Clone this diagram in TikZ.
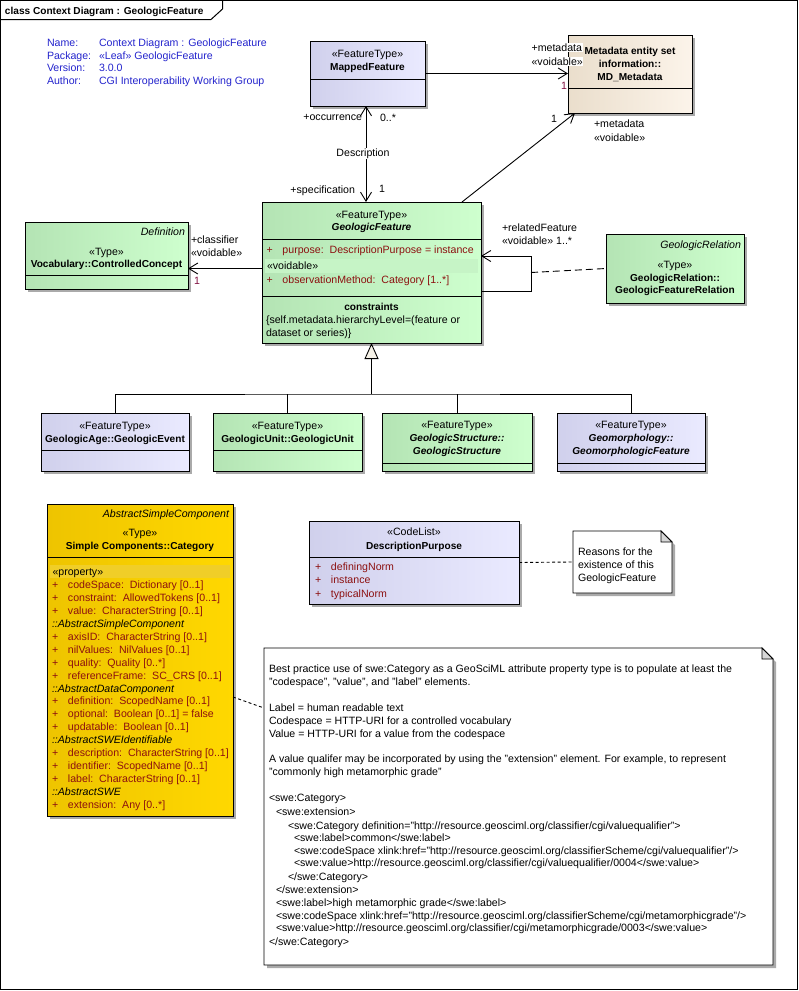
\documentclass[tikz,border=0pt]{standalone}
\usepackage{fontspec}
\setmainfont{Liberation Sans}
\usetikzlibrary{arrows.meta,shadows,calc}

\definecolor{grL}{RGB}{180,228,180}
\definecolor{grR}{RGB}{206,255,206}
\definecolor{lvL}{RGB}{208,208,236}
\definecolor{lvR}{RGB}{234,234,255}
\definecolor{bgL}{RGB}{234,222,204}
\definecolor{bgR}{RGB}{252,244,234}
\definecolor{gdL}{RGB}{238,196,0}
\definecolor{gdR}{RGB}{255,216,0}
\definecolor{shadowgray}{RGB}{170,170,170}
\definecolor{attrcol}{RGB}{140,16,16}
\definecolor{infoblue}{RGB}{36,36,205}
\definecolor{multcol}{RGB}{128,16,64}
\definecolor{foldgray}{RGB}{215,215,215}
\definecolor{vband}{RGB}{198,244,198}
\definecolor{pband}{RGB}{240,206,40}
\definecolor{trifill}{RGB}{246,242,232}

\newcommand\dfont{\fontsize{10.6}{12.9}\selectfont}
\newcommand\bfont{\fontsize{10.1}{12.9}\selectfont\bfseries}
\newcommand\pa[1]{\makebox[16pt][l]{+}#1}
\newcommand\hd[1]{{\color{black}\itshape #1}}

\tikzset{
  box/.style={draw=black, line width=0.9pt, inner sep=0pt, outer sep=0pt, anchor=north west,
    drop shadow={shadow xshift=3pt, shadow yshift=-3pt, fill=shadowgray, opacity=1}},
  greenbox/.style={left color=grL, right color=grR},
  lavbox/.style={left color=lvL, right color=lvR},
  beigebox/.style={left color=bgL, right color=bgR},
  goldbox/.style={left color=gdL, right color=gdR},
  txt/.style={inner sep=0pt, outer sep=0pt, font=\dfont},
  lbl/.style={txt, fill=white, inner sep=0.6pt},
  assoc/.style={line width=0.9pt, -{Straight Barb[length=9pt,width=11pt,line width=0.9pt]}},
  assocboth/.style={line width=0.9pt, {Straight Barb[length=9pt,width=11pt,line width=0.9pt]}-{Straight Barb[length=9pt,width=11pt,line width=0.9pt]}},
  gen/.style={line width=0.9pt, -{Triangle[length=16pt,width=14pt,fill=trifill,line width=0.9pt]}},
  notedash/.style={line width=0.9pt, dash pattern=on 3pt off 2.5pt},
  reldash/.style={line width=0.9pt, dash pattern=on 7pt off 4pt},
  divline/.style={line width=0.9pt}
}

\newcommand\umlbox[6]{\node[box,#6,minimum width=#4pt-#2pt,minimum height=#5pt-#3pt] (#1) at (#2,#3) {};}
\newcommand\divider[2]{\draw[divline] (#1.west |- 0,#2) -- (#1.east |- 0,#2);}
\newcommand\tw[4][]{\node[txt,anchor=base west,#1] (#2) at (#3) {#4};}
\newcommand\tc[4][]{\node[txt,anchor=base,#1] (#2) at (#3) {#4};}
\newcommand\te[4][]{\node[txt,anchor=base east,#1] (#2) at (#3) {#4};}
\newcommand\notebox[5]{%
  \fill[shadowgray] ({#2+3},{#3+3}) -- ({#4-11+3},{#3+3}) -- ({#4+3},{#3+11+3}) -- ({#4+3},{#5+3}) -- ({#2+3},{#5+3}) -- cycle;
  \draw[line width=0.9pt, fill=white] (#2,#3) -- ({#4-11},#3) -- (#4,{#3+11}) -- (#4,#5) -- (#2,#5) -- cycle;
  \draw[line width=0.9pt, fill=foldgray] ({#4-11},#3) -- ({#4-11},{#3+11}) -- (#4,{#3+11}) -- cycle;
  \node[inner sep=0pt,outer sep=0pt,anchor=north west,minimum width=#4pt-#2pt,minimum height=#5pt-#3pt] (#1) at (#2,#3) {};}

\begin{document}
\begin{tikzpicture}[x=1pt,y=-1pt]
\useasboundingbox (0,0) rectangle (799,991);
\fill[white] (0,0) rectangle (799,991);

% frame
\draw[line width=1pt] (0.5,0.5) rectangle (797.5,989.5);
\draw[line width=1pt] (0.5,19.5) -- (211,19.5) -- (222.5,9) -- (222.5,0.5);
\tw[font=\bfont]{hdr}{5,14.8}{class Context Diagram : GeologicFeature}

% info block
\tw[text=infoblue]{inf1}{47,46.5}{Name:}
\tw[text=infoblue]{inf2}{47,59.2}{Package:}
\tw[text=infoblue]{inf3}{47,71.9}{Version:}
\tw[text=infoblue]{inf4}{47,84.6}{Author:}
\tw[text=infoblue]{inv1}{99,46.5}{Context Diagram : GeologicFeature}
\tw[text=infoblue]{inv2}{99,59.2}{«Leaf» GeologicFeature}
\tw[text=infoblue]{inv3}{99,71.9}{3.0.0}
\tw[text=infoblue]{inv4}{99,84.6}{CGI Interoperability Working Group}

% boxes
\umlbox{mf}{310}{41}{425}{106}{lavbox}
\umlbox{md}{568}{35}{692}{113}{beigebox}
\umlbox{gf}{262}{202}{481}{343}{greenbox}
\umlbox{voc}{25}{222}{188}{289}{greenbox}
\umlbox{gr}{606}{234}{744}{303}{greenbox}
\umlbox{ge}{41}{413}{189}{471}{lavbox}
\umlbox{gu}{213}{413}{362}{471}{greenbox}
\umlbox{gs}{382}{413}{532}{471}{greenbox}
\umlbox{gm}{557}{413}{705}{471}{lavbox}
\umlbox{cat}{47}{504}{233}{816}{goldbox}
\umlbox{dp}{309}{521}{519}{604}{lavbox}

\divider{mf}{79}
\divider{md}{88}
\divider{gf}{239}
\divider{gf}{296}
\divider{voc}{275}
\divider{ge}{450}
\divider{gu}{450}
\divider{gs}{463}
\divider{gm}{463}
\divider{cat}{557}
\divider{dp}{557}

% MappedFeature
\tc{mfs}{367.5,57.5}{«FeatureType»}
\tc[font=\bfont]{mfn}{367.5,70}{MappedFeature}

% MD_Metadata
\tc[font=\bfont]{mdn1}{630,54.5}{Metadata entity set}
\tc[font=\bfont]{mdn2}{630,67}{information::}
\tc[font=\bfont]{mdn3}{630,80.5}{MD\_Metadata}

% GeologicFeature
\tc{gfs}{371.5,218.5}{«FeatureType»}
\tc[font=\bfont\itshape]{gfn}{371.5,230.8}{GeologicFeature}
\fill[vband] (265,259) rectangle (478,273);
\tw[text=attrcol]{gfa1}{266.5,253.5}{\pa{purpose:\ \ DescriptionPurpose = instance}}
\tw{gfv}{267,269.5}{«voidable»}
\tw[text=attrcol]{gfa2}{266.5,283.5}{\pa{observationMethod:\ \ Category [1..*]}}
\tc[font=\bfont]{gfc}{371.5,310.5}{constraints}
\tw{gfc1}{266,323.5}{\{self.metadata.hierarchyLevel=(feature or}
\tw{gfc2}{266,336.5}{dataset or series)\}}

% Vocabulary
\te[font=\dfont\itshape]{vocd}{185,235.5}{Definition}
\tc{vocs}{106.5,255.5}{«Type»}
\tc[font=\bfont]{vocn}{106.5,267}{Vocabulary::ControlledConcept}

% GeologicRelation
\te[font=\dfont\itshape]{grd}{741,248.5}{GeologicRelation}
\tc{grs}{675,268.5}{«Type»}
\tc[font=\bfont]{grn1}{675,281}{GeologicRelation::}
\tc[font=\bfont]{grn2}{675,293}{GeologicFeatureRelation}

% subclasses
\tc{ges}{115,429.5}{«FeatureType»}
\tc[font=\bfont]{gen}{115,442.5}{GeologicAge::GeologicEvent}
\tc{gus}{287.5,429.5}{«FeatureType»}
\tc[font=\bfont]{gun}{287.5,442.5}{GeologicUnit::GeologicUnit}
\tc{gss}{457,428.5}{«FeatureType»}
\tc[font=\bfont\itshape]{gsn1}{457,441.5}{GeologicStructure::}
\tc[font=\bfont\itshape]{gsn2}{457,454.5}{GeologicStructure}
\tc{gms}{631,428.5}{«FeatureType»}
\tc[font=\bfont\itshape]{gmn1}{631,441.5}{Geomorphology::}
\tc[font=\bfont\itshape]{gmn2}{631,454.5}{GeomorphologicFeature}

% Category
\te[font=\dfont\itshape]{catd}{229,517.5}{AbstractSimpleComponent}
\tc{cats}{140,536.5}{«Type»}
\tc[font=\bfont]{catn}{140,549.5}{Simple Components::Category}
\fill[pband] (50,564.5) rectangle (230,578);
\tw{catp}{52.5,575.5}{«property»}
\foreach \t [count=\i from 0] in {
 {\pa{codeSpace:\ \ Dictionary [0..1]}},
 {\pa{constraint:\ \ AllowedTokens [0..1]}},
 {\pa{value:\ \ CharacterString [0..1]}},
 {\hd{::AbstractSimpleComponent}},
 {\pa{axisID:\ \ CharacterString [0..1]}},
 {\pa{nilValues:\ \ NilValues [0..1]}},
 {\pa{quality:\ \ Quality [0..*]}},
 {\pa{referenceFrame:\ \ SC\_CRS [0..1]}},
 {\hd{::AbstractDataComponent}},
 {\pa{definition:\ \ ScopedName [0..1]}},
 {\pa{optional:\ \ Boolean [0..1] = false}},
 {\pa{updatable:\ \ Boolean [0..1]}},
 {\hd{::AbstractSWEIdentifiable}},
 {\pa{description:\ \ CharacterString [0..1]}},
 {\pa{identifier:\ \ ScopedName [0..1]}},
 {\pa{label:\ \ CharacterString [0..1]}},
 {\hd{::AbstractSWE}},
 {\pa{extension:\ \ Any [0..*]}}
}{\node[txt,anchor=base west,text=attrcol] (cat\i) at (52,{588.5+\i*12.94}) {\t};}

% DescriptionPurpose
\tc{dps}{414,535.5}{«CodeList»}
\tc[font=\bfont]{dpn}{414,549.5}{DescriptionPurpose}
\tw[text=attrcol]{dp1}{315,570.5}{\pa{definingNorm}}
\tw[text=attrcol]{dp2}{315,583.5}{\pa{instance}}
\tw[text=attrcol]{dp3}{315,597.3}{\pa{typicalNorm}}

% notes
\notebox{note1}{573}{531}{672}{593}
\tw{n1a}{578,555.2}{Reasons for the}
\tw{n1b}{578,568.5}{existence of this}
\tw{n1c}{578,581}{GeologicFeature}

\notebox{note2}{264}{648}{773}{965}
\tw{n2l1}{269,672.5}{Best practice use of swe:Category as a GeoSciML attribute property type is to populate at least the}
\tw{n2l2}{269,685.5}{"codespace", "value", and "label" elements.}
\tw{n2l3}{269,711.5}{Label = human readable text}
\tw{n2l4}{269,724.5}{Codespace = HTTP-URI for a controlled vocabulary}
\tw{n2l5}{269,737}{Value = HTTP-URI for a value from the codespace}
\tw{n2l6}{269,762.5}{A value qualifer may be incorporated by using the "extension" element. For example, to represent}
\tw{n2l7}{269,775.5}{"commonly high metamorphic grade"}
\tw{n2l8}{269,801.8}{<swe:Category>}
\tw{n2l9}{276,815.5}{<swe:extension>}
\tw{n2l10}{288,829}{<swe:Category definition="http://resource.geosciml.org/classifier/cgi/valuequalifier">}
\tw{n2l11}{294,841.8}{<swe:label>common</swe:label>}
\tw{n2l12}{294,854.3}{<swe:codeSpace xlink:href="http://resource.geosciml.org/classifierScheme/cgi/valuequalifier"/>}
\tw{n2l13}{294,866.8}{<swe:value>http://resource.geosciml.org/classifier/cgi/valuequalifier/0004</swe:value>}
\tw{n2l14}{288,880.2}{</swe:Category>}
\tw{n2l15}{276,893.5}{</swe:extension>}
\tw{n2l16}{276,906.2}{<swe:label>high metamorphic grade</swe:label>}
\tw{n2l17}{276,919.5}{<swe:codeSpace xlink:href="http://resource.geosciml.org/classifierScheme/cgi/metamorphicgrade"/>}
\tw{n2l18}{276,931.8}{<swe:value>http://resource.geosciml.org/classifier/cgi/metamorphicgrade/0003</swe:value>}
\tw{n2l19}{269,945.8}{</swe:Category>}

% connectors
\draw[assoc] (mf.east) -- (mf.east -| md.west);
\coordinate (mfb) at ([xshift=-1.5pt]mf.south);
\draw[assocboth] (mfb) -- (mfb |- gf.north);
\draw[assoc] ([xshift=-19pt]gf.north east) -- ([xshift=7pt]md.south west);
\coordinate (gfl) at ([yshift=4pt]gf.west);
\draw[assoc] (gfl) -- (gfl -| voc.east);
\coordinate (loopm) at ([xshift=50pt]gf.east);
\draw[assoc] ([yshift=-18.5pt]gf.east) -- ++(50,0) -- ++(0,-35) -- ([yshift=16.5pt]gf.east);
\draw[reldash] (loopm) -- (gr.west);
\draw[notedash] (dp.east) -- (note1.west);
\draw[notedash] ([yshift=-37pt]cat.east) -- ([yshift=98.5pt]note2.west);

% generalization tree
\coordinate (jn) at (gf.south |- 0,394);
\draw[line width=0.9pt] (ge.north) |- (jn) -- (gm.north |- jn) -- (gm.north);
\draw[line width=0.9pt] (gu.north) -- (gu.north |- jn);
\draw[line width=0.9pt] (gs.north) -- (gs.north |- jn);
\draw[gen] (jn) -- (gf.south);

% association labels
\tw[lbl]{lmd1}{531,51}{+metadata}
\tw[lbl]{lmd2}{531,65}{«voidable»}
\tw[text=multcol]{lmd3}{561,89.5}{1}
\te{locc}{362,120.5}{+occurrence}
\tw{locm}{380,121.5}{0..*}
\tc[lbl]{ldesc}{363,156.5}{Description}
\te{lspec}{355,193.5}{+specification}
\tw{lspm}{379,192.5}{1}
\tw{lmd4}{551,122.5}{1}
\tw{lmd5}{594,127.5}{+metadata}
\tw{lmd6}{594,141}{«voidable»}
\tw{lcl1}{191,243.5}{+classifier}
\tw{lcl2}{191,256.5}{«voidable»}
\tw[text=multcol]{lcl3}{194,284.5}{1}
\tw{lrf1}{502,231.5}{+relatedFeature}
\tw{lrf2}{502,244.5}{«voidable» 1..*}
\end{tikzpicture}
\end{document}
